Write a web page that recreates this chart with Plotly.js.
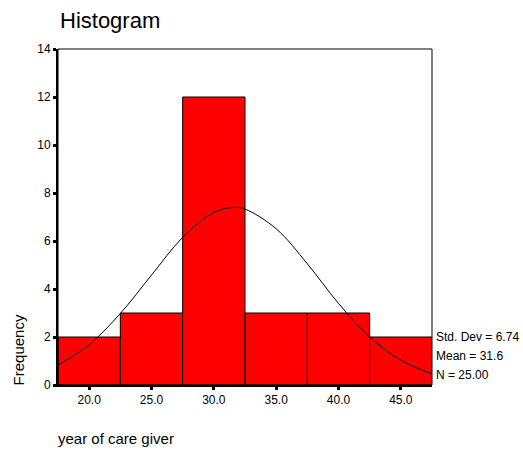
<!DOCTYPE html>
<html><head><meta charset="utf-8">
<script src="https://cdn.plot.ly/plotly-3.0.1.min.js"></script>
<style>body{margin:0;background:#fff}#c{width:523px;height:454px}</style>
</head><body><div id="c"></div>
<script>
const binCenters = [20, 25, 30, 35, 40, 45];
const frequencies = [2, 3, 12, 3, 3, 2];
const curveX = [17.5, 20, 22.5, 25, 27.5, 30, 31.6, 32.5, 35, 37.5, 40, 42.5, 45, 47.5];
const curveY = [0.83, 1.68, 2.98, 4.58, 6.15, 7.19, 7.40, 7.33, 6.51, 5.05, 3.40, 2.00, 1.03, 0.46];
const xTickVals = [20, 25, 30, 35, 40, 45];
const xTickText = ["20.0", "25.0", "30.0", "35.0", "40.0", "45.0"];
const yTickVals = [0, 2, 4, 6, 8, 10, 12, 14];
const statsText = ["Std. Dev = 6.74", "Mean = 31.6", "N = 25.00"];
const statsY = [2, 1.2, 0.4];

const font = "'Liberation Sans', Arial, sans-serif";
const data = [
  {type: 'bar', x: binCenters, y: frequencies, width: 5,
   marker: {color: '#ff0000', line: {color: '#000', width: 1}}, hoverinfo: 'none'},
  {type: 'scatter', mode: 'lines', x: curveX, y: curveY,
   line: {color: '#000', width: 1, shape: 'spline'}, hoverinfo: 'none'}
];
const annotations = statsText.map((t, i) => ({
  text: t, xref: 'paper', yref: 'y', x: 1.005, y: statsY[i],
  xanchor: 'left', yanchor: 'middle', showarrow: false,
  font: {family: font, size: 12, color: '#000'}
}));
annotations.push({text: 'Frequency', xref: 'paper', yref: 'paper', x: -0.105, y: 0.105,
  textangle: -90, xanchor: 'center', yanchor: 'middle', showarrow: false,
  font: {family: font, size: 15, color: '#000'}});
annotations.push({text: 'year of care giver', xref: 'paper', yref: 'paper', x: -0.005, y: -0.16,
  xanchor: 'left', yanchor: 'middle', showarrow: false,
  font: {family: font, size: 15, color: '#000'}});
const layout = {
  width: 523, height: 454,
  margin: {l: 58, r: 91, t: 49, b: 69},
  paper_bgcolor: '#fff', plot_bgcolor: '#fff',
  showlegend: false, bargap: 0,
  title: {text: 'Histogram', x: 60/523, xanchor: 'left', y: 1 - 20/454, yanchor: 'middle',
    font: {family: font, size: 22, color: '#000'}},
  xaxis: {range: [17.5, 47.5], tickvals: xTickVals, ticktext: xTickText,
    ticks: 'outside', ticklen: 3, tickwidth: 3, tickcolor: '#000',
    showline: true, linewidth: 2, linecolor: '#000', showgrid: false, zeroline: false,
    tickfont: {family: font, size: 12, color: '#000'}},
  yaxis: {range: [0, 14], tickvals: yTickVals,
    ticks: 'outside', ticklen: 3, tickwidth: 3, tickcolor: '#000',
    showline: true, linewidth: 2, linecolor: '#000', showgrid: false, zeroline: false,
    tickfont: {family: font, size: 12, color: '#000'}},
  shapes: [{type: 'rect', xref: 'paper', yref: 'paper', x0: 0, x1: 1, y0: 0, y1: 1,
    line: {color: '#000', width: 1}, layer: 'above'}],
  annotations: annotations
};
Plotly.newPlot('c', data, layout, {displayModeBar: false, staticPlot: true});
</script></body></html>
